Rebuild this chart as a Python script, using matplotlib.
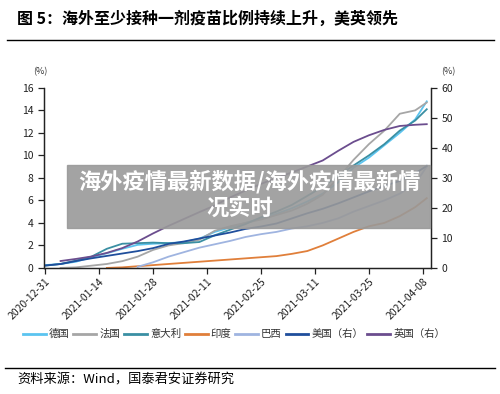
import numpy as np
import pandas as pd
import matplotlib
matplotlib.use('Agg')
import matplotlib.pyplot as plt
import matplotlib.dates as mdates
from matplotlib.patches import Rectangle
from matplotlib.lines import Line2D

plt.rcParams['font.family'] = ['Noto Sans CJK SC', 'DejaVu Sans']

# days since 2020-12-31
days = [0, 4, 8, 12, 16, 20, 24, 28, 32, 36, 40, 44, 48, 52, 56, 60,
        64, 68, 72, 76, 80, 84, 88, 92, 96, 99]
nan = np.nan

# left axis (%)
germany = [0.25, 0.35, 0.55, 0.95, 1.3, 1.7, 2.05, 2.15, 2.2, 2.3, 2.6, 3.2, 3.6,
           4.0, 4.4, 4.8, 5.3, 5.9, 6.6, 7.6, 8.9, 9.8, 10.9, 12.0, 13.2, 14.8]
france = [nan, 0.0, 0.05, 0.2, 0.35, 0.6, 1.0, 1.6, 2.0, 2.2, 2.5, 3.3, 3.7,
          4.0, 4.3, 4.7, 5.1, 5.7, 6.5, 8.0, 9.6, 11.0, 12.2, 13.7, 14.0, 14.7]
italy = [0.2, 0.35, 0.65, 1.0, 1.7, 2.15, 2.2, 2.25, 2.2, 2.2, 2.3, 2.9, 3.4,
         3.9, 4.5, 5.0, 5.6, 6.4, 7.2, 8.2, 9.1, 10.0, 11.0, 12.2, 13.1, 14.1]
india = [nan, nan, nan, nan, 0.0, 0.05, 0.15, 0.25, 0.35, 0.45, 0.55, 0.65, 0.75,
         0.85, 0.95, 1.05, 1.25, 1.5, 2.0, 2.6, 3.2, 3.7, 4.0, 4.6, 5.4, 6.2]
brazil = [nan, nan, nan, nan, nan, nan, 0.1, 0.5, 1.0, 1.4, 1.8, 2.1, 2.4,
          2.75, 3.0, 3.2, 3.5, 3.7, 4.0, 4.4, 5.0, 5.5, 6.0, 6.6, 7.5, 9.0]
# right axis (%)
usa = [0.8, 1.3, 2.3, 3.2, 4.0, 4.8, 5.6, 6.6, 8.0, 8.8, 9.8, 10.8, 11.8,
       13.0, 13.8, 14.8, 16.5, 18.2, 19.7, 21.5, 23.5, 25.5, 27.3, 29.0, 31.5, 34.0]
uk = [nan, 2.3, 3.0, 3.8, 5.0, 6.6, 8.8, 11.5, 14.0, 16.3, 18.6, 20.8, 23.5,
      25.8, 28.0, 30.0, 31.8, 33.8, 35.8, 39.0, 42.0, 44.2, 46.0, 47.3, 47.7, 47.9]

tick_dates = ['2020-12-31', '2021-01-14', '2021-01-28', '2021-02-11',
              '2021-02-25', '2021-03-11', '2021-03-25', '2021-04-08']

base = pd.Timestamp('2020-12-31')
dates = base + pd.to_timedelta(days, unit='D')

fig = plt.figure(figsize=(5, 3.94), dpi=100)
ax = fig.add_axes([0.088, 0.320, 0.774, 0.457])
ax2 = ax.twinx()

lw = 1.3
ax.plot(dates, germany, color='#5bc4f0', lw=lw)
ax.plot(dates, france, color='#a6a6a6', lw=lw)
ax.plot(dates, italy, color='#3a8fa3', lw=lw)
ax.plot(dates, india, color='#e07f3a', lw=lw)
ax.plot(dates, brazil, color='#9fb4e0', lw=lw)
ax2.plot(dates, usa, color='#1f4e9c', lw=lw)
ax2.plot(dates, uk, color='#6b4d8e', lw=lw)

ax.set_xlim(base - pd.Timedelta(days=0.3), base + pd.Timedelta(days=100.1))
ax.set_ylim(0, 16)
ax.set_yticks(range(0, 17, 2))
ax2.set_ylim(0, 60)
ax2.set_yticks(range(0, 61, 10))

ax.set_xticks(pd.to_datetime(tick_dates))
ax.xaxis.set_major_formatter(mdates.DateFormatter('%Y-%m-%d'))
plt.setp(ax.get_xticklabels(), rotation=45, ha='right', rotation_mode='anchor')

for a in (ax, ax2):
    a.spines['top'].set_visible(False)
    for s in a.spines.values():
        s.set_color('#222222')
        s.set_linewidth(0.9)
    a.tick_params(direction='out', length=4, width=0.9, labelsize=7.5,
                  colors='#222222')
ax.tick_params(axis='x', pad=2)

fig.text(0.066, 0.817, '(%)', fontsize=6.5, ha='left', va='center', color='#333333')
fig.text(0.883, 0.817, '(%)', fontsize=6.5, ha='left', va='center', color='#333333')

# legend
names = ['德国', '法国', '意大利', '印度', '巴西', '美国（右）', '英国（右）']
colors = ['#5bc4f0', '#a6a6a6', '#3a8fa3', '#e07f3a', '#9fb4e0', '#1f4e9c', '#6b4d8e']
handles = [Line2D([0], [0], color=c, lw=2) for c in colors]
fig.legend(handles, names, loc='center', bbox_to_anchor=(0.468, 0.152), ncol=7,
           frameon=False, fontsize=7.5, handlelength=2.2, handletextpad=0.3,
           columnspacing=0.35, labelcolor='#333333')

# title and source
fig.text(0.034, 0.952, '图 5：海外至少接种一剂疫苗比例持续上升，美英领先',
         fontsize=11.5, fontweight='bold', ha='left', va='center')
fig.add_artist(Line2D([0.014, 0.988], [0.898, 0.898], color='black', lw=1.0))
fig.add_artist(Line2D([0.010, 0.990], [0.066, 0.066], color='black', lw=1.0))
fig.text(0.034, 0.035, '资料来源：Wind，国泰君安证券研究', fontsize=9.5,
         ha='left', va='center')

# watermark banner
fig.add_artist(Rectangle((67 / 500, 1 - 228 / 394), 363 / 500, 63 / 394,
                         transform=fig.transFigure, color='#999999', alpha=0.9,
                         zorder=10))
fig.text(249 / 500, 1 - 182 / 394, '海外疫情最新数据/海外疫情最新情',
         fontsize=16, fontweight='bold', color='white', ha='center',
         va='center', zorder=11)
fig.text(240 / 500, 1 - 208 / 394, '况实时', fontsize=16, fontweight='bold',
         color='white', ha='center', va='center', zorder=11)

fig.savefig('out.png', dpi=100)
